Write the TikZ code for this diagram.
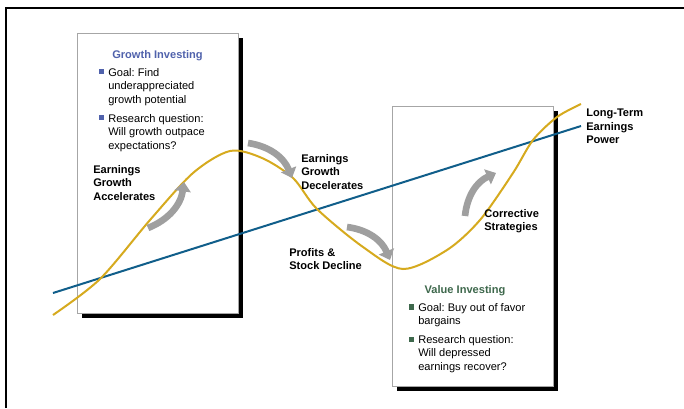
\documentclass[tikz,border=0pt]{standalone}
\usepackage{fontspec}
\setmainfont{Liberation Sans}
\usetikzlibrary{arrows.meta,shadows,positioning}
\frenchspacing

\definecolor{growthblue}{RGB}{80,98,172}
\definecolor{valuegreen}{RGB}{62,104,76}
\definecolor{curvegold}{RGB}{214,170,30}
\definecolor{trendblue}{RGB}{16,94,138}

\begin{document}
\begin{tikzpicture}[x=0.75pt,y=-0.75pt,
  every node/.style={font=\fontsize{8.3}{10.1}\selectfont, inner sep=0pt},
  panel/.style={draw=gray!70, fill=white, minimum width=120.75pt, minimum height=210pt,
    drop shadow={shadow xshift=3.5pt, shadow yshift=-3.5pt, fill=black, opacity=1}},
  sq/.style={fill=#1, minimum size=4.2pt},
  phase/.style={font=\fontsize{8.3}{10.1}\selectfont\bfseries, align=left, anchor=north west},
  bodytext/.style={align=left, anchor=north west},
  heading/.style={font=\fontsize{8.3}{10.1}\selectfont\bfseries, text=#1, anchor=north},
  swing/.style={draw=gray!75, line width=5pt, -{Triangle[width=12pt,length=7pt]}}]
  \useasboundingbox (0,0) rectangle (684,408);
  \draw[line width=1.5pt] (6,408) -- (6,8) -- (684,8);

  \node[panel] (growth) at (157.5,173.5) {};
  \node[panel] (value) at (472.5,246) {};

  \coordinate (trend0) at (53,293);
  \coordinate (trend1) at (581,126);
  \draw[trendblue, line width=1.5pt] (trend0) -- (trend1);
  \draw[curvegold, line width=1.5pt] plot[smooth] coordinates {(53,315) (100,279) (150,220)
    (193,173) (230,151) (262,158) (293,178) (317,209) (363,247) (403,269) (447,250)
    (480,220) (513,173) (533,140) (557,117) (581,104)};

  \coordinate (acc0) at (148,228);  \coordinate (acc1) at (184,182);
  \coordinate (dec0) at (248,143);  \coordinate (dec1) at (292,178);
  \coordinate (dip0) at (347,227);  \coordinate (dip1) at (390,260);
  \coordinate (fix0) at (465,216);  \coordinate (fix1) at (496,173);
  \draw[swing] (acc0) to[bend right=30] (acc1);
  \draw[swing] (dec0) to[bend left=30] (dec1);
  \draw[swing] (dip0) to[bend left=30] (dip1);
  \draw[swing] (fix0) to[bend left=30] (fix1);

  \node[heading=growthblue] (gtitle) at (157.5,50) {Growth Investing};
  \node[sq=growthblue] (gsq1) at (101.5,71.5) {};
  \node[bodytext] (g1) at (108,68) {Goal: Find\\underappreciated\\growth potential};
  \node[sq=growthblue] (gsq2) at (101.5,117.5) {};
  \node[bodytext] (g2) at (108,114) {Research question:\\Will growth outpace\\expectations?};

  \node[heading=valuegreen] (vtitle) at (465,285) {Value Investing};
  \node[sq=valuegreen] (vsq1) at (411.5,307) {};
  \node[bodytext] (v1) at (418,303) {Goal: Buy out of favor\\bargains};
  \node[sq=valuegreen] (vsq2) at (411.5,339.5) {};
  \node[bodytext] (v2) at (418,335) {Research question:\\Will depressed\\earnings recover?};

  \node[phase] (acc) at (93,165) {Earnings\\Growth\\Accelerates};
  \node[phase] (dec) at (301,154) {Earnings\\Growth\\Decelerates};
  \node[phase] (dip) at (289,248) {Profits \&\\Stock Decline};
  \node[phase] (fix) at (484,209) {Corrective\\Strategies};
  \node[phase] (power) at (586,109) {Long-Term\\Earnings\\Power};
\end{tikzpicture}
\end{document}
